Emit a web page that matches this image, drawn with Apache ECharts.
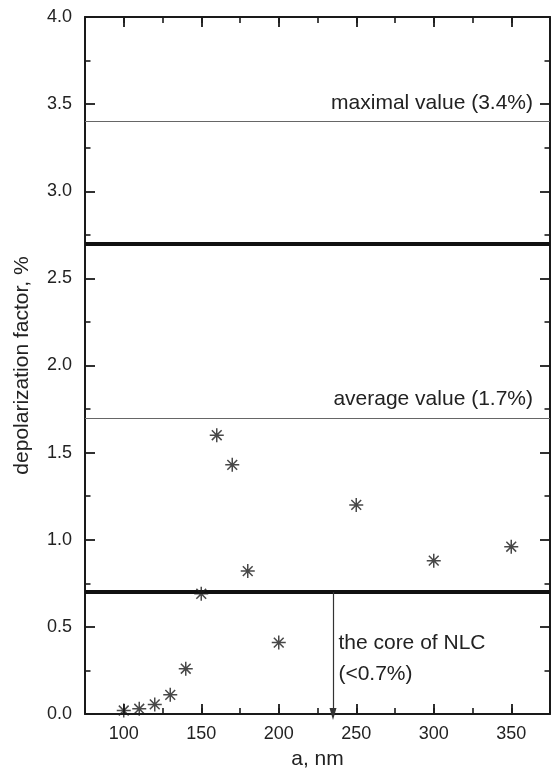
<!DOCTYPE html>
<html><head><meta charset="utf-8">
<script src="https://cdn.jsdelivr.net/npm/echarts@6/dist/echarts.min.js"></script>
<style>html,body{margin:0;padding:0;background:#fff}#c{width:553px;height:775px}</style>
</head><body><div id="c"></div>
<script>
const aValues = [100, 110, 120, 130, 140, 150, 160, 170, 180, 200, 250, 300, 350];
const depolValues = [0.02, 0.03, 0.055, 0.11, 0.26, 0.69, 1.60, 1.43, 0.82, 0.41, 1.20, 0.88, 0.96];
const thinLines = [3.4, 1.7];
const thinLabels = ['maximal value (3.4%)', 'average value (1.7%)'];
const thickLines = [2.7, 0.7];
const arrowX = 235;
const arrowFrom = 0.7;
const arrowTo = 0;
const noteText = ['the core of NLC', '(<0.7%)'];
const noteAt = [238.5, 0.318];
const xTicks = [100, 150, 200, 250, 300, 350];
const yTicks = [0.0, 0.5, 1.0, 1.5, 2.0, 2.5, 3.0, 3.5, 4.0];

const font = 'Liberation Sans, Arial, sans-serif';
const lineCol = '#1a1a1a';
const axisLine = {show: true, lineStyle: {color: lineCol, width: 2}};
const noLine = {show: false};
const longTick = {show: true, inside: true, length: 10, lineStyle: {color: lineCol, width: 1.8}};
const shortTick = {show: true, inside: true, length: 6, lineStyle: {color: lineCol, width: 1.6}};
const star = 'path://M0,-6L0,6M-6,0L6,0M-4.2,-4.2L4.2,4.2M-4.2,4.2L4.2,-4.2';

const data = aValues.map((a, i) => [a, depolValues[i]]);

function xAx(pos, major, withLabels) {
  const ax = {
    type: 'value', position: pos, min: 75, max: 375, interval: 25,
    axisLine: major ? axisLine : noLine,
    splitLine: {show: false},
    axisTick: major ? Object.assign({customValues: xTicks}, longTick) : shortTick,
    axisLabel: {show: false}
  };
  if (major && withLabels) {
    ax.axisLabel = {show: true, customValues: xTicks, color: '#222', fontSize: 18,
      fontFamily: font, margin: 11};
    ax.name = 'a, nm';
    ax.nameLocation = 'middle';
    ax.nameGap = 35;
    ax.nameTextStyle = {color: '#222', fontSize: 21, fontFamily: font};
  }
  return ax;
}

const chart = echarts.init(document.getElementById('c'));
chart.setOption({
  animation: false,
  backgroundColor: '#fff',
  grid: {left: 85, right: 3, top: 17, bottom: 58},
  xAxis: [xAx('bottom', false), xAx('bottom', true, true), xAx('top', false), xAx('top', true, false)],
  yAxis: [{
    type: 'value', min: 0, max: 4, interval: 0.5,
    axisLine, axisTick: longTick,
    minorTick: {show: true, splitNumber: 2, length: 5.5, lineStyle: {color: lineCol, width: 1.6}},
    splitLine: {show: false},
    axisLabel: {color: '#222', fontSize: 18, fontFamily: font, margin: 13,
      formatter: v => v.toFixed(1)},
    name: 'depolarization factor, %', nameLocation: 'middle', nameGap: 52,
    nameTextStyle: {color: '#222', fontSize: 21, fontFamily: font}
  }, {
    type: 'value', position: 'right', min: 0, max: 4, interval: 0.5,
    axisLine, axisTick: longTick,
    minorTick: {show: true, splitNumber: 2, length: 5.5, lineStyle: {color: lineCol, width: 1.6}},
    splitLine: {show: false},
    axisLabel: {show: false}
  }],
  series: [{
    type: 'scatter',
    xAxisIndex: 1,
    yAxisIndex: 0,
    data: data,
    symbol: star,
    symbolSize: 14,
    itemStyle: {color: 'none', borderColor: '#1a1a1a', borderWidth: 1.5},
    z: 5,
    markLine: {
      silent: true,
      symbol: ['none', 'none'],
      animation: false,
      data: [
        ...thinLines.map((v, i) => ({
          yAxis: v,
          lineStyle: {color: '#666', width: 1.2, type: 'solid'},
          label: {show: true, position: 'insideEndTop', formatter: thinLabels[i],
            color: '#222', fontSize: 21, fontFamily: font, distance: [17, 8]}
        })),
        ...thickLines.map(v => ({
          yAxis: v,
          lineStyle: {color: '#111', width: 4, type: 'solid'},
          label: {show: false}
        })),
        [
          {coord: [arrowX, arrowFrom], symbol: 'none',
            lineStyle: {color: '#333', width: 1.2, type: 'solid'}, label: {show: false}},
          {coord: [arrowX, arrowTo], symbol: 'triangle', symbolSize: [7, 12], symbolRotate: 180}
        ]
      ]
    },
    markPoint: {
      silent: true,
      symbol: 'circle', symbolSize: 0,
      data: [{coord: noteAt,
        label: {show: true, position: 'right', distance: 0, formatter: noteText.join('\n'),
          color: '#222', fontSize: 21, fontFamily: font, lineHeight: 31, align: 'left'}}]
    }
  }]
});
</script></body></html>
